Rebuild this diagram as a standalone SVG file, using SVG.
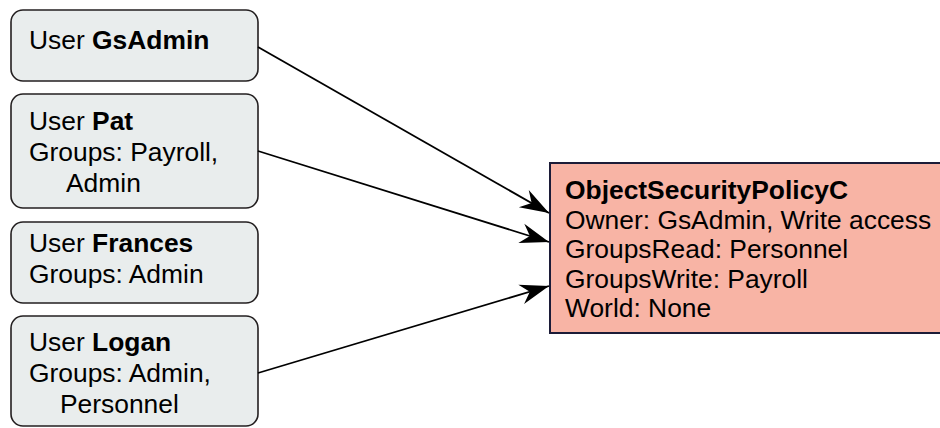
<svg xmlns="http://www.w3.org/2000/svg" width="940" height="428" viewBox="0 0 940 428">
  <style>
    .user rect { fill: #e9eded; stroke: #231f20; stroke-width: 1.6; }
    .policy rect { fill: #f8b4a5; stroke: #1c1c38; stroke-width: 2; }
    text { font-family: "Liberation Sans", Arial, sans-serif; font-size: 26.4px; fill: #000; }
    .b { font-weight: bold; }
    .edge { stroke: #000; stroke-width: 1.8; fill: none; marker-end: url(#head); }
  </style>
  <defs>
    <!-- barbed arrowhead, sized in user units -->
    <marker id="head" markerUnits="userSpaceOnUse" viewBox="-32 -12 34 24" refX="0" refY="0" markerWidth="34" markerHeight="24" orient="auto">
      <path d="M0,0 L-29,-10 L-20,0 L-29,10 Z" fill="#000"/>
    </marker>
  </defs>

  <g id="user-gsadmin" class="user">
    <rect x="11" y="10" width="247" height="71" rx="12"/>
    <text x="29" y="49">User <tspan class="b">GsAdmin</tspan></text>
  </g>

  <g id="user-pat" class="user">
    <rect x="11" y="94" width="247" height="114" rx="12"/>
    <text x="29" y="129.5">User <tspan class="b">Pat</tspan></text>
    <text x="29" y="160.5">Groups: Payroll,</text>
    <text x="66" y="191.5">Admin</text>
  </g>

  <g id="user-frances" class="user">
    <rect x="11" y="222" width="247" height="81" rx="12"/>
    <text x="29" y="252">User <tspan class="b">Frances</tspan></text>
    <text x="29" y="283">Groups: Admin</text>
  </g>

  <g id="user-logan" class="user">
    <rect x="11" y="316" width="247" height="110" rx="12"/>
    <text x="29" y="351">User <tspan class="b">Logan</tspan></text>
    <text x="29" y="382">Groups: Admin,</text>
    <text x="60" y="413">Personnel</text>
  </g>

  <g id="policy" class="policy">
    <rect x="550" y="163" width="400" height="170"/>
    <text x="565" y="199" class="b">ObjectSecurityPolicyC</text>
    <text x="565" y="228.5">Owner: GsAdmin, Write access</text>
    <text x="565" y="258">GroupsRead: Personnel</text>
    <text x="565" y="287.5">GroupsWrite: Payroll</text>
    <text x="565" y="317">World: None</text>
  </g>

  <g id="connectors">
    <line class="edge" x1="258" y1="47" x2="549" y2="213"/>
    <line class="edge" x1="258" y1="151" x2="549" y2="242"/>
    <line class="edge" x1="258" y1="373" x2="549" y2="286"/>
  </g>
</svg>
